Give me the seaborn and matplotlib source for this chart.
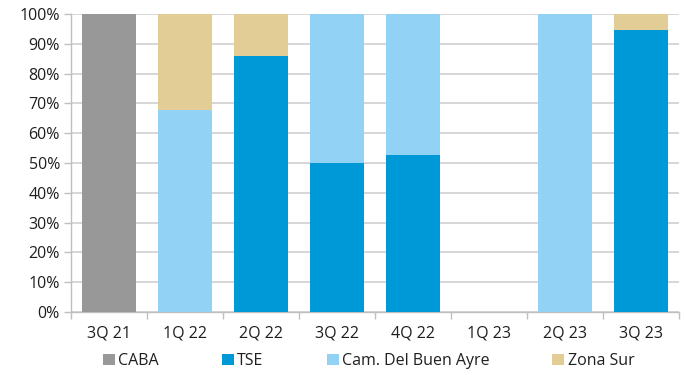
import numpy as np
import pandas as pd
import matplotlib
matplotlib.use("Agg")
import matplotlib.pyplot as plt
import seaborn as sns
from matplotlib.patches import Patch
from matplotlib.ticker import FixedLocator, FuncFormatter

sns.set_theme(style="white")
plt.rcParams["font.family"] = ["Open Sans", "DejaVu Sans"]

quarters = ["3Q 21", "1Q 22", "2Q 22", "3Q 22", "4Q 22", "1Q 23", "2Q 23", "3Q 23"]
caba = [100.0, 0, 0, 0, 0, 0, 0, 0]
tse = [0, 0, 85.9, 50.0, 52.8, 0, 0, 94.6]
cam_buen_ayre = [0, 67.7, 0, 50.0, 47.2, 0, 100.0, 0]
zona_sur = [0, 32.3, 14.1, 0, 0, 0, 0, 5.4]

series_names = ["CABA", "TSE", "Cam. Del Buen Ayre", "Zona Sur"]
series_values = [caba, tse, cam_buen_ayre, zona_sur]
colors = ["#989898", "#0099D8", "#92D3F5", "#E3CD97"]

fig = plt.figure(figsize=(6.86, 3.75), dpi=100)
ax = fig.add_axes([71 / 686, 1 - 312 / 375, 608 / 686, 298 / 375])

text_color = "#1F1F1F"
grid_color = "#CFCFCF"
fs = 11.5

bottom = np.zeros(len(quarters))
for name, vals, col in zip(series_names, series_values, colors):
    df = pd.DataFrame({"quarter": quarters, "value": vals})
    sns.barplot(data=df, x="quarter", y="value", order=quarters, color=col,
                bottom=bottom.copy(), width=0.71, ax=ax, errorbar=None,
                linewidth=0, saturation=1.0, zorder=3)
    bottom += np.array(vals)

ax.set_xlim(-0.5, len(quarters) - 0.5)
ax.set_ylim(0, 100)
ax.set_xlabel("")
ax.set_ylabel("")

ax.set_yticks(np.arange(0, 101, 10))
ax.yaxis.set_major_formatter(FuncFormatter(lambda v, p: f"{int(v)}%"))
ax.yaxis.grid(True, color=grid_color, linewidth=1.2, zorder=0)
ax.set_axisbelow(True)

ax.xaxis.set_minor_locator(FixedLocator(np.arange(-0.5, len(quarters), 1.0)))
ax.tick_params(axis="x", which="major", length=0, pad=10, labelsize=fs, labelcolor=text_color)
ax.tick_params(axis="x", which="minor", length=5, width=1, color="#BFBFBF", direction="out", bottom=True)
ax.tick_params(axis="y", which="major", length=5, width=1, color="#BFBFBF", direction="out", left=True,
               labelsize=fs, labelcolor=text_color, pad=3)

for side in ["top", "right"]:
    ax.spines[side].set_visible(False)
for side in ["left", "bottom"]:
    ax.spines[side].set_color("#BFBFBF")
    ax.spines[side].set_linewidth(1)

handles = [Patch(facecolor=c, edgecolor="none") for c in colors]
fig.legend(handles, series_names, loc="center left", bbox_to_anchor=(103 / 686, 1 - 361 / 375),
           ncol=4, frameon=False, fontsize=fs, handlelength=0.75, handleheight=0.75,
           handletextpad=0.2, columnspacing=3.95, labelcolor=text_color, borderaxespad=0,
           borderpad=0)

fig.savefig("out.png", dpi=100)
